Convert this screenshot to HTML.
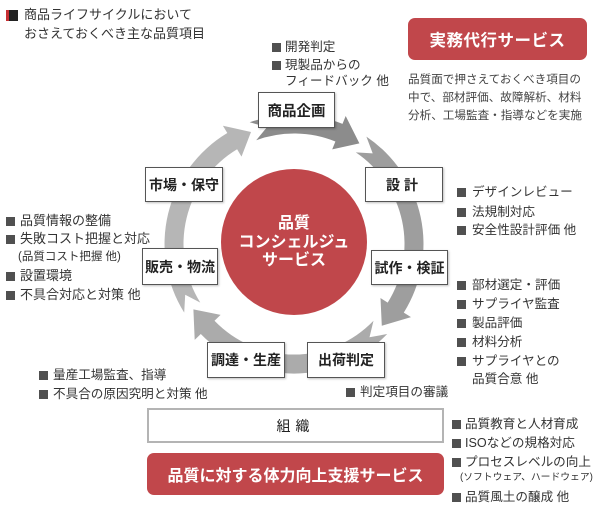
<!DOCTYPE html>
<html><head><meta charset="utf-8">
<style>
html,body{margin:0;padding:0;background:#fff;}
body{width:600px;height:518px;position:relative;overflow:hidden;font-family:"Liberation Sans","Noto Sans CJK JP",sans-serif;color:#333;}
.a{position:absolute;white-space:nowrap;}
.sq{position:absolute;width:9px;height:9px;background:#505050;}
.box{position:absolute;box-sizing:border-box;background:#fff;border:1.5px solid #555;display:flex;align-items:center;justify-content:center;font-size:14px;font-weight:bold;color:#222;box-shadow:1px 1px 2px rgba(0,0,0,.25);}
.t{position:absolute;white-space:nowrap;font-size:12.6px;line-height:16px;color:#333;}
</style></head><body>

<svg width="600" height="518" style="position:absolute;left:0;top:0">
  <path d="M184.2,312.6 A129.5,129.5 0 0 1 227.3,133.0 L222.9,125.7 L251.0,132.0 L241.5,156.6 L237.1,149.3 A110.5,110.5 0 0 0 200.3,302.6 L185.2,294.7 Z" fill="#b6b6b6"/>
  <path d="M249.7,122.3 A129.5,129.5 0 0 1 342.5,123.9 L345.7,116.0 L359.4,143.4 L332.2,149.4 L335.4,141.5 A110.5,110.5 0 0 0 256.2,140.2 L267.0,127.1 Z" fill="#8c8c8c"/>
  <path d="M366.4,136.6 A129.5,129.5 0 0 1 403.8,312.6 L411.0,317.1 L381.8,325.8 L380.5,298.0 L387.7,302.6 A110.5,110.5 0 0 0 355.8,152.4 L372.7,153.4 Z" fill="#9e9e9e"/>
  <path d="M387.2,334.0 A129.5,129.5 0 0 1 200.8,334.0 L194.7,339.9 L193.4,309.4 L220.6,314.9 L214.5,320.8 A110.5,110.5 0 0 0 373.5,320.8 L369.5,337.3 Z" fill="#ababab"/>
  <circle cx="294" cy="242" r="73" fill="#c0474b"/>
</svg>

<!-- title -->
<div class="a" style="left:6px;top:10px;width:12px;height:11px;background:#222;border-left:3px solid #c62f33;box-sizing:border-box"></div>
<div class="a" style="left:24px;top:5px;font-size:13px;line-height:19px;color:#333">商品ライフサイクルにおいて<br>おさえておくべき主な品質項目</div>

<!-- 実務代行サービス -->
<div class="a" style="left:408px;top:18px;width:179px;height:42px;background:#c1474b;border-radius:7px;color:#fff;font-weight:bold;font-size:16.5px;display:flex;align-items:center;justify-content:center;letter-spacing:0.5px">実務代行サービス</div>
<div class="a" style="left:408px;top:71px;font-size:11.6px;line-height:18px;color:#444">品質面で押さえておくべき項目の<br>中で、部材評価、故障解析、材料<br>分析、工場監査・指導などを実施</div>

<!-- top bullets -->
<div class="sq" style="left:272px;top:43px"></div>
<div class="t" style="left:285px;top:39px">開発判定</div>
<div class="sq" style="left:272px;top:61px"></div>
<div class="t" style="left:285px;top:57px">現製品からの</div>
<div class="t" style="left:285px;top:73px">フィードバック 他</div>

<!-- left bullets -->
<div class="sq" style="left:6px;top:217px"></div>
<div class="t" style="left:20px;top:213px;font-size:13px">品質情報の整備</div>
<div class="sq" style="left:6px;top:235px"></div>
<div class="t" style="left:20px;top:231px;font-size:13px">失敗コスト把握と対応</div>
<div class="t" style="left:18px;top:249px;font-size:11.5px">(品質コスト把握 他)</div>
<div class="sq" style="left:6px;top:272px"></div>
<div class="t" style="left:20px;top:268px;font-size:13px">設置環境</div>
<div class="sq" style="left:6px;top:291px"></div>
<div class="t" style="left:20px;top:287px;font-size:13px">不具合対応と対策 他</div>

<!-- bottom-left bullets -->
<div class="sq" style="left:39px;top:371px"></div>
<div class="t" style="left:53px;top:367px">量産工場監査、指導</div>
<div class="sq" style="left:39px;top:390px"></div>
<div class="t" style="left:53px;top:386px">不具合の原因究明と対策 他</div>

<!-- right bullets -->
<div class="sq" style="left:457px;top:188px"></div>
<div class="t" style="left:472px;top:184px">デザインレビュー</div>
<div class="sq" style="left:457px;top:208px"></div>
<div class="t" style="left:472px;top:204px">法規制対応</div>
<div class="sq" style="left:457px;top:226px"></div>
<div class="t" style="left:472px;top:222px">安全性設計評価 他</div>

<div class="sq" style="left:457px;top:281px"></div>
<div class="t" style="left:472px;top:277px">部材選定・評価</div>
<div class="sq" style="left:457px;top:300px"></div>
<div class="t" style="left:472px;top:296px">サプライヤ監査</div>
<div class="sq" style="left:457px;top:319px"></div>
<div class="t" style="left:472px;top:315px">製品評価</div>
<div class="sq" style="left:457px;top:338px"></div>
<div class="t" style="left:472px;top:334px">材料分析</div>
<div class="sq" style="left:457px;top:357px"></div>
<div class="t" style="left:472px;top:353px">サプライヤとの</div>
<div class="t" style="left:472px;top:371px">品質合意 他</div>

<div class="sq" style="left:346px;top:388px"></div>
<div class="t" style="left:360px;top:384px">判定項目の審議</div>

<!-- bottom-right bullets -->
<div class="sq" style="left:452px;top:420px"></div>
<div class="t" style="left:465px;top:416px">品質教育と人材育成</div>
<div class="sq" style="left:452px;top:439px"></div>
<div class="t" style="left:465px;top:435px">ISOなどの規格対応</div>
<div class="sq" style="left:452px;top:458px"></div>
<div class="t" style="left:465px;top:454px">プロセスレベルの向上</div>
<div class="t" style="left:460px;top:470px;font-size:9.8px">(ソフトウェア、ハードウェア)</div>
<div class="sq" style="left:452px;top:493px"></div>
<div class="t" style="left:465px;top:489px">品質風土の醸成 他</div>

<!-- stage boxes -->
<div class="box" style="left:258px;top:92px;width:77px;height:36px;font-size:14.5px">商品企画</div>
<div class="box" style="left:145px;top:167px;width:78px;height:35px">市場・保守</div>
<div class="box" style="left:365px;top:167px;width:78px;height:35px;letter-spacing:4px">設計</div>
<div class="box" style="left:142px;top:248px;width:76px;height:37px">販売・物流</div>
<div class="box" style="left:371px;top:250px;width:77px;height:35px">試作・検証</div>
<div class="box" style="left:207px;top:342px;width:78px;height:36px">調達・生産</div>
<div class="box" style="left:307px;top:342px;width:78px;height:36px">出荷判定</div>

<!-- center circle text -->
<div class="a" style="left:221px;top:215px;width:146px;text-align:center;color:#fff;font-weight:bold;font-size:16px;line-height:18.5px">品質<br>コンシェルジュ<br>サービス</div>

<!-- 組織 -->
<div class="a" style="left:147px;top:408px;width:297px;height:35px;box-sizing:border-box;border:2px solid #b4b4b4;background:#fff;display:flex;align-items:center;justify-content:center;font-size:14px;letter-spacing:5px;color:#222">組織</div>

<!-- bottom red -->
<div class="a" style="left:147px;top:453px;width:297px;height:42px;background:#c1474b;border-radius:7px;color:#fff;font-weight:bold;font-size:16px;display:flex;align-items:center;justify-content:center">品質に対する体力向上支援サービス</div>

</body></html>
